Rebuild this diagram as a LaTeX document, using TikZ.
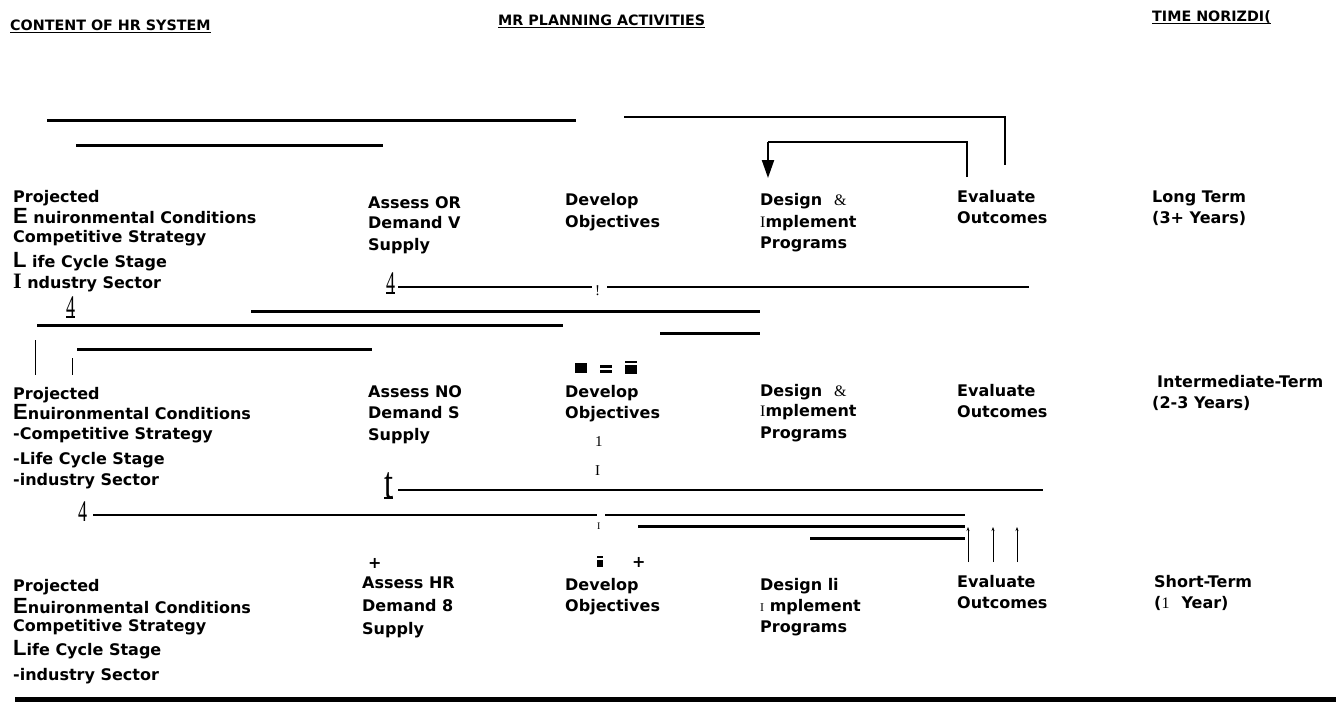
\documentclass[tikz,border=0pt]{standalone}
\usepackage{fontspec}
\setmainfont{DejaVu Sans}
\newfontfamily\serfont{Liberation Serif}
\newfontfamily\capfont{Liberation Sans}
\usetikzlibrary{arrows.meta}
\tikzset{
        txt/.style={anchor=base west, inner sep=0pt, font=\bfseries\fontsize{16}{18}\selectfont},
        head/.style={anchor=base west, inner sep=0pt, font=\bfseries\fontsize{14.3}{16}\selectfont},
        glyph/.style={anchor=base west, inner sep=0pt, font=\serfont\fontsize{30}{30}\selectfont},
        smallglyph/.style={anchor=base west, inner sep=0pt, font=\serfont\fontsize{15}{15}\selectfont},
        heavy/.style={line width=3pt},
        medium/.style={line width=2.2pt},
        light/.style={line width=1pt},
        uline/.style={line width=1.8pt},
        tick/.style={light, -{Stealth[length=4pt, width=3pt]}},
    }
\newcommand{\bigE}{{\capfont\bfseries\fontsize{22}{22}\selectfont E}}
\newcommand{\bigL}{{\capfont\bfseries\fontsize{22}{22}\selectfont L}}
\newcommand{\serI}{{\serfont\bfseries\fontsize{22}{22}\selectfont I}}

\begin{document}
\begin{tikzpicture}[x=1pt, y=-1pt]
        \useasboundingbox (0,0) rectangle (1336,702);

        % === HEADINGS ===
        \node[head] (hdContent) at (10,30) {CONTENT OF HR SYSTEM};
        \node[head] (hdPlan) at (498,25) {MR PLANNING ACTIVITIES};
        \node[head] (hdTime) at (1152,21) {TIME NORIZDI(};
        \draw[uline] ([yshift=-2.5pt]hdContent.base west) -- ([yshift=-2.5pt]hdContent.base east);
        \draw[uline] ([yshift=-2.5pt]hdPlan.base west) -- ([yshift=-2.5pt]hdPlan.base east);
        \draw[uline] ([yshift=-2.5pt]hdTime.base west) -- ([yshift=-2.5pt]hdTime.base east);

        % === LONG TERM ROW ===
        \node[txt] (projA) at (13,202) {Projected};
        \node[txt] (envA) at (13,223) {\bigE\ nuironmental Conditions};
        \node[txt] (compA) at (13,242) {Competitive Strategy};
        \node[txt] (lifeA) at (13,267) {\bigL\ ife Cycle Stage};
        \node[txt] (indA) at (13,288) {\serI\ ndustry Sector};

        \node[txt] (assessA) at (368,208) {Assess OR};
        \node[txt] (demandA) at (368,228) {Demand V};
        \node[txt] (supplyA) at (368,250) {Supply};

        \node[txt] (devA) at (565,205) {Develop};
        \node[txt] (objA) at (565,227) {Objectives};

        \node[txt] (desA) at (760,205) {Design\hspace{12pt}{\serfont\mdseries\&}};
        \node[txt] (implA) at (760,227) {{\serfont\mdseries I}mplement};
        \node[txt] (progA) at (760,248) {Programs};

        \node[txt] (evalA) at (957,202) {Evaluate};
        \node[txt] (outA) at (957,223) {Outcomes};

        \node[txt] (termA) at (1152,202) {Long Term};
        \node[txt] (yearsA) at (1152,223) {(3+ Years)};

        % feedback loops at the top
        \draw[heavy] (47,120) -- (576,120);
        \draw[heavy] (76,145) -- (383,145);
        \draw[medium] (624,117) -- (1005,117) -- (1005,165);
        \draw[medium] (967,177) -- (967,142) -- (768,142);
        \draw[medium, -{Triangle[length=18pt, width=12pt]}] (768,142) -- (768,178);

        % stray marks and lines below the long term row
        \node[glyph] (fourA) at (66,316) {\scalebox{0.6}[1]{4}};
        \draw[uline] ([yshift=-1pt]fourA.base west) -- ([yshift=-1pt]fourA.base east);
        \node[glyph] (fourB) at (386,292) {\scalebox{0.6}[1]{4}};
        \draw[uline] ([yshift=-1pt]fourB.base west) -- ([yshift=-1pt]fourB.base east);
        \node[smallglyph] (bangA) at (595,295) {!};
        \draw[medium] (398,287) -- (592,287);
        \draw[medium] (607,287) -- (1029,287);
        \draw[heavy] (251,311) -- (760,311);
        \draw[heavy] (37,325) -- (563,325);
        \draw[heavy] (660,333) -- (760,333);
        \draw[heavy] (77,349) -- (372,349);
        \draw[light] (35,340) -- (35,375);
        \draw[light] (72,358) -- (72,375);

        % === INTERMEDIATE ROW ===
        \fill (575,363) rectangle (587,373);
        \fill (600,365) rectangle (612,367.5);
        \fill (600,370) rectangle (612,372.5);
        \fill (625,361) rectangle (637,363);
        \fill (625,365) rectangle (637,374);

        \node[txt] (projB) at (13,399) {Projected};
        \node[txt] (envB) at (13,419) {\bigE nuironmental Conditions};
        \node[txt] (compB) at (13,439) {-Competitive Strategy};
        \node[txt] (lifeB) at (13,464) {-Life Cycle Stage};
        \node[txt] (indB) at (13,485) {-industry Sector};

        \node[txt] (assessB) at (368,397) {Assess NO};
        \node[txt] (demandB) at (368,418) {Demand S};
        \node[txt] (supplyB) at (368,440) {Supply};

        \node[txt] (devB) at (565,397) {Develop};
        \node[txt] (objB) at (565,418) {Objectives};
        \node[smallglyph] (oneB) at (595,446) {1};
        \node[smallglyph] (iB) at (595,475) {I};

        \node[txt] (desB) at (760,396) {Design\hspace{12pt}{\serfont\mdseries\&}};
        \node[txt] (implB) at (760,416) {{\serfont\mdseries I}mplement};
        \node[txt] (progB) at (760,438) {Programs};

        \node[txt] (evalB) at (957,396) {Evaluate};
        \node[txt] (outB) at (957,417) {Outcomes};

        \node[txt] (termB) at (1157,387) {Intermediate-Term};
        \node[txt] (yearsB) at (1152,408) {(2-3 Years)};

        % lines below the intermediate row
        \node[glyph, font=\serfont\fontsize{46}{46}\selectfont] (tB) at (384,498) {\scalebox{0.7}[1]{t}};
        \draw[uline] (tB.base west) -- (tB.base east);
        \draw[medium] (398,490) -- (1043,490);
        \node[glyph] (fourC) at (78,521) {\scalebox{0.6}[1]{4}};
        \draw[medium] (93,515) -- (597,515);
        \draw[medium] (605,515) -- (965,515);
        \node[smallglyph, font=\serfont\fontsize{10}{10}\selectfont] (iC) at (597,529) {I};
        \draw[heavy] (638,526) -- (965,526);
        \draw[heavy] (810,538) -- (965,538);
        \foreach \xx in {968,993,1017}
            \draw[tick] (\xx,562) -- (\xx,527);

        % === SHORT TERM ROW ===
        \node[txt] (plusA) at (368,568) {+};
        \fill (597,556) rectangle (603,557.5);
        \fill (597,559.5) rectangle (603,567);
        \node[txt] (plusB) at (632,567) {+};

        \node[txt] (projC) at (13,591) {Projected};
        \node[txt] (envC) at (13,613) {\bigE nuironmental Conditions};
        \node[txt] (compC) at (13,631) {Competitive Strategy};
        \node[txt] (lifeC) at (13,655) {\bigL ife Cycle Stage};
        \node[txt] (indC) at (13,680) {-industry Sector};

        \node[txt] (assessC) at (362,588) {Assess HR};
        \node[txt] (demandC) at (362,611) {Demand 8};
        \node[txt] (supplyC) at (362,634) {Supply};

        \node[txt] (devC) at (565,590) {Develop};
        \node[txt] (objC) at (565,611) {Objectives};

        \node[txt] (desC) at (760,590) {Design li};
        \node[txt] (implC) at (760,611) {{\serfont\mdseries\fontsize{12}{12}\selectfont I} mplement};
        \node[txt] (progC) at (760,632) {Programs};

        \node[txt] (evalC) at (957,587) {Evaluate};
        \node[txt] (outC) at (957,608) {Outcomes};

        \node[txt] (termC) at (1154,587) {Short-Term};
        \node[txt] (yearsC) at (1154,608) {({\serfont\mdseries 1}\hspace{12pt}Year)};

        \draw[line width=5pt] (15,699) -- (1336,699);

    \end{tikzpicture}
\end{document}
